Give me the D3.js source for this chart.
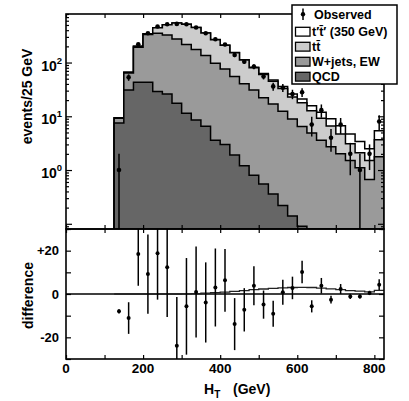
<!DOCTYPE html>
<html><head><meta charset="utf-8">
<script src="https://cdn.jsdelivr.net/npm/d3@7"></script>
<style>
body{margin:0;background:#fff}
svg{display:block}
text{font-family:"Liberation Sans",Arial,Helvetica,sans-serif;font-weight:bold;fill:#000}
</style>
</head><body>
<svg id="chart" width="409" height="401"></svg>
<script>
// ---- data ----
const binLow = [125,150,175,200,225,250,275,300,325,350,375,400,425,450,475,500,525,550,575,600,625,650,675,700,725,750,775,800];
const binWidth = 25;
const observed = [1,53,219,351,467,516,523,516,450,351,271,216,138,104,84,55,36,34,26,28,7,13,4,7,2,1,2,8];
const obsError = [1,7.3,14.7,18.3,21.4,22.9,22.5,22.3,21,18.5,18,14.5,12,10,9,6.5,6,5.8,5.2,5.2,2.8,3.6,1.8,2.3,1.2,1,1,2.5];
const qcd    = [7.5,31,43,43,29,26,17.5,11.4,8.5,6.5,3.6,3.0,1.9,1.2,0.8,0.55,0.36,0.22,0.14,0.09,0,0,0,0,0,0,0,0];
const wjets  = [1.7,33,150,288,322,300,258,205,166,128,93,73,53,39,30,21.5,16.6,12.2,8.8,6.4,4.9,3.6,2.7,2.0,1.5,1.1,0.67,1.77];
const ttbar  = [0.2,2,8,12,95,180,270,300,275,220,170,133,97,71,49,38,28,20.6,14,11.4,7.8,5.6,3.9,2.7,1.6,1.0,0.83,1.9];
const tprime = [0,0,0,0,0,0,0,0.1,0.2,0.4,0.6,0.9,1.2,1.6,2.0,2.3,2.6,2.8,3.0,3.1,3.0,2.7,2.4,2.0,1.6,1.3,1.0,1.7];
const difference = [-8.0,-11.1,18.5,9.2,18.8,12.3,-23.9,-5.7,0.9,-3.9,3.0,6.3,-13.9,-7.3,3.8,-4.9,-9.1,0.8,2.8,10.2,-5.7,3.8,-2.6,2.3,-1.1,-1.1,0.5,4.3];
const diffError = obsError;
const xTicks = [0,100,200,300,400,500,600,700,800];
const xLabels = [0,200,400,600,800];
const logMajor = [0.1,1,10,100];
const logLabels = [[1,"0"],[10,"1"],[100,"2"]];
const diffTicks = [-30,-20,-10,0,10,20,30];
const diffLabels = [[20,"+20"],[0,"0"],[-20,"-20"]];
const legendItems = [
  {label:"t\u2032t\u0304\u2032 (350 GeV)", fill:"#ffffff"},
  {label:"tt\u0304", fill:"#cccccc"},
  {label:"W+jets, EW", fill:"#9a9a9a"},
  {label:"QCD", fill:"#666666"}
];

// ---- layout ----
const L=66, R=384, T=14, M=229, B=359;
const svg = d3.select("#chart");
const x = d3.scaleLinear().domain([0,825]).range([L,R]);
const y = d3.scaleLog().domain([0.08,800]).range([M,T]).clamp(true);
const yd = d3.scaleLinear().domain([-30,30]).range([B,M]);
const yy = v => v > 0 ? y(v) : M;

const defs = svg.append("defs");
defs.append("clipPath").attr("id","clipTop").append("rect").attr("x",L).attr("y",T).attr("width",R-L).attr("height",M-T);
defs.append("clipPath").attr("id","clipBot").append("rect").attr("x",L).attr("y",M).attr("width",R-L).attr("height",B-M);

// stacked table
const table = binLow.map((b,i)=>({qcd:qcd[i], wjets:wjets[i], ttbar:ttbar[i], tprime:tprime[i]}));
const stack = d3.stack().keys(["qcd","wjets","ttbar","tprime"])(table);
const fills = {qcd:"#666666", wjets:"#9a9a9a", ttbar:"#cccccc", tprime:"#ffffff"};
const n = binLow.length;
function stepPts(vals){
  const pts = [[x(binLow[0]), M]];
  vals.forEach((v,i)=>{ pts.push([x(binLow[i]), yy(v)]); pts.push([x(binLow[i]+binWidth), yy(v)]); });
  pts.push([x(binLow[n-1]+binWidth), M]);
  return pts;
}
const line = d3.line();
const gTop = svg.append("g").attr("clip-path","url(#clipTop)");
stack.slice().reverse().forEach(layer=>{
  const tops = layer.map(d=>d[1]);
  gTop.append("path").attr("d", line(stepPts(tops)))
    .attr("fill", fills[layer.key]).attr("stroke","#000").attr("stroke-width",1.5).attr("stroke-linejoin","miter");
});
// observed
const cx = i => x(binLow[i]+binWidth/2);
binLow.forEach((b,i)=>{
  const lo = observed[i]-obsError[i];
  gTop.append("line").attr("x1",cx(i)).attr("x2",cx(i))
    .attr("y1", yy(observed[i]+obsError[i])).attr("y2", lo>0? yy(lo) : M+2)
    .attr("stroke","#000").attr("stroke-width",1.5);
  gTop.append("circle").attr("cx",cx(i)).attr("cy",yy(observed[i])).attr("r",2.3).attr("fill","#000");
});

// ---- bottom ----
const gBot = svg.append("g").attr("clip-path","url(#clipBot)");
gBot.append("line").attr("x1",L).attr("x2",R).attr("y1",yd(0)).attr("y2",yd(0)).attr("stroke","#000").attr("stroke-width",1.4);
const tpPts = [];
tprime.forEach((v,i)=>{ tpPts.push([x(binLow[i]), yd(v)]); tpPts.push([x(binLow[i]+binWidth), yd(v)]); });
gBot.append("path").attr("d", line(tpPts)).attr("fill","none").attr("stroke","#222").attr("stroke-width",1.3);
binLow.forEach((b,i)=>{
  gBot.append("line").attr("x1",cx(i)).attr("x2",cx(i))
    .attr("y1", yd(difference[i]+diffError[i])).attr("y2", yd(difference[i]-diffError[i]))
    .attr("stroke","#000").attr("stroke-width",1.5);
  gBot.append("circle").attr("cx",cx(i)).attr("cy",yd(difference[i])).attr("r",2).attr("fill","#000");
});

// ---- axes ticks ----
const noDomain = g => g.select(".domain").remove();
const styleT = g => g.selectAll("line").attr("stroke","#000").attr("stroke-width",1.2);
function ax(axis, tx, ty){
  svg.append("g").attr("transform",`translate(${tx},${ty})`).call(axis.tickFormat(""))
    .call(noDomain).call(styleT);
}
// top plot x ticks
ax(d3.axisBottom(x).tickValues(xTicks).tickSize(-4), 0, M);
ax(d3.axisTop(x).tickValues(xTicks).tickSize(-4), 0, T);
// bottom plot x ticks
ax(d3.axisTop(x).tickValues(xTicks).tickSize(-4), 0, M);
ax(d3.axisBottom(x).tickValues(xTicks).tickSize(-4), 0, B);
// log ticks
const logMinor = [];
[0.01,0.1,1,10,100].forEach(d=>{ for(let k=2;k<=9;k++){ const v=d*k; if(v>=0.08 && v<=800) logMinor.push(v);} });
ax(d3.axisLeft(y).tickValues(logMajor).tickSize(-6), L, 0);
ax(d3.axisLeft(y).tickValues(logMinor).tickSize(-3), L, 0);
ax(d3.axisRight(y).tickValues(logMajor).tickSize(-6), R, 0);
ax(d3.axisRight(y).tickValues(logMinor).tickSize(-3), R, 0);
// diff ticks
ax(d3.axisLeft(yd).tickValues(diffTicks).tickSize(-5), L, 0);
ax(d3.axisRight(yd).tickValues(diffTicks).tickSize(-5), R, 0);

// frames
svg.append("rect").attr("x",L).attr("y",T).attr("width",R-L).attr("height",M-T).attr("fill","none").attr("stroke","#000").attr("stroke-width",1.6);
svg.append("rect").attr("x",L).attr("y",M).attr("width",R-L).attr("height",B-M).attr("fill","none").attr("stroke","#000").attr("stroke-width",1.6);

// ---- labels ----
logLabels.forEach(([v,e])=>{
  const t = svg.append("text").attr("x",62).attr("y",y(v)+8).attr("text-anchor","end").style("font-size","14px");
  t.append("tspan").text("10");
  t.append("tspan").attr("dy",-7).style("font-size","9.5px").text(e);
});
diffLabels.forEach(([v,s])=>{
  svg.append("text").attr("x",59).attr("y",yd(v)+4.7).attr("text-anchor","end").style("font-size","13px").text(s);
});
xLabels.forEach(v=>{
  svg.append("text").attr("x",x(v)).attr("y",373).attr("text-anchor","middle").style("font-size","13.5px").text(v);
});
// axis titles
svg.append("text").attr("transform","translate(32,96.5) rotate(-90)").attr("text-anchor","middle").style("font-size","14px").text("events/25 GeV");
svg.append("text").attr("transform","translate(33,295.5) rotate(-90)").attr("text-anchor","middle").style("font-size","14px").text("difference");
const xt = svg.append("text").attr("x",204).attr("y",394).style("font-size","14px");
xt.append("tspan").text("H");
xt.append("tspan").attr("dy",4).style("font-size","10px").text("T");
xt.append("tspan").attr("dy",-4).attr("x",233).text("(GeV)");

// ---- legend ----
const lg = svg.append("g");
lg.append("rect").attr("x",292).attr("y",5).attr("width",105).attr("height",79).attr("fill","#fff").attr("stroke","#000").attr("stroke-width",1.5);
lg.append("line").attr("x1",303).attr("x2",303).attr("y1",8.5).attr("y2",20).attr("stroke","#000").attr("stroke-width",1.5);
lg.append("circle").attr("cx",303).attr("cy",14.2).attr("r",2.2).attr("fill","#000");
lg.append("text").attr("x",314).attr("y",18.7).style("font-size","12.5px").text("Observed");
legendItems.forEach((d,i)=>{
  const cy = 31.7 + i*15;
  lg.append("rect").attr("x",295.5).attr("y",cy-4.4).attr("width",14.5).attr("height",8.8).attr("fill",d.fill).attr("stroke","#000").attr("stroke-width",1.3);
  lg.append("text").attr("x",312).attr("y",cy+4.5).style("font-size","12.5px").text(d.label);
});
</script>
</body></html>
